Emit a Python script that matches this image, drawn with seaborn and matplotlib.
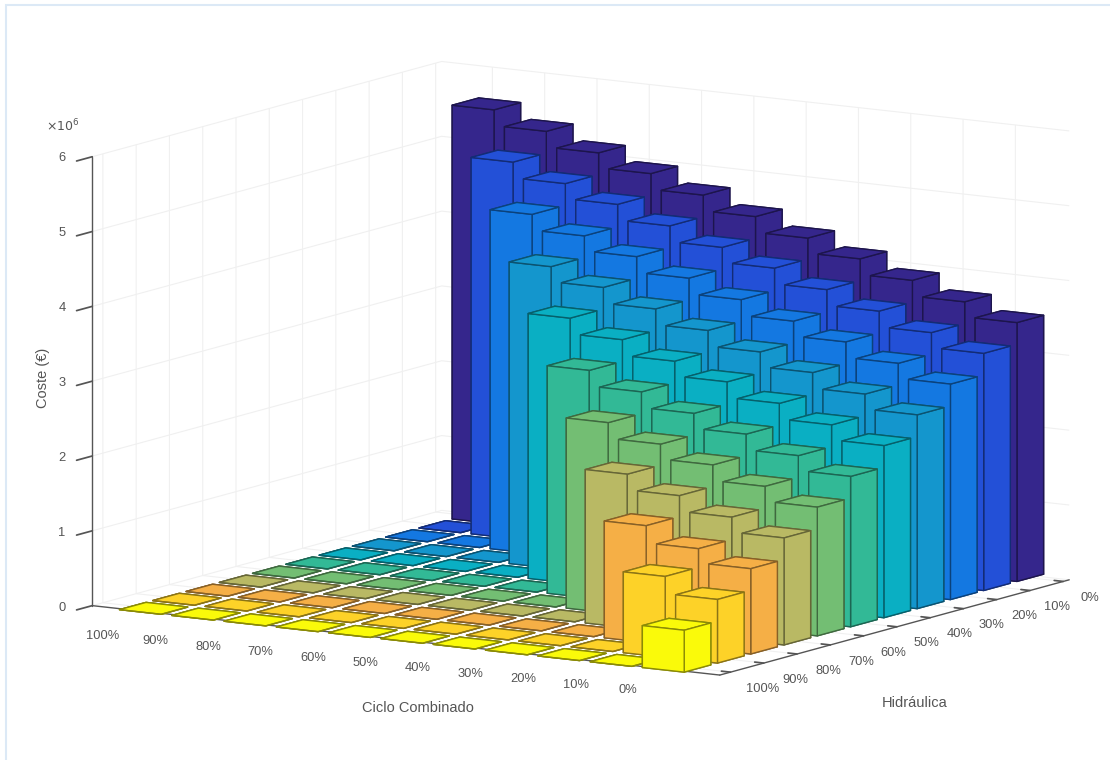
import matplotlib
matplotlib.use("Agg")
import matplotlib.pyplot as plt
from matplotlib.patches import Rectangle
import seaborn as sns

# tick labels
ciclo_labels = ["100%", "90%", "80%", "70%", "60%", "50%", "40%", "30%", "20%", "10%", "0%"]
hidro_labels = ["100%", "90%", "80%", "70%", "60%", "50%", "40%", "30%", "20%", "10%", "0%"]
coste_ticks = [0, 1e6, 2e6, 3e6, 4e6, 5e6, 6e6]
coste_labels = ["0", "1", "2", "3", "4", "5", "6"]

# coste in millions. one list per hidraulica row, ciclo 100% -> 0%
h100 = [0, 0, 0, 0, 0, 0, 0, 0, 0, 0, 0.56]
h90 = [0, 0, 0, 0, 0, 0, 0, 0, 0, 1.08, 0.85]
h80 = [0, 0, 0, 0, 0, 0, 0, 0, 1.56, 1.33, 1.14]
h70 = [0, 0, 0, 0, 0, 0, 0, 2.05, 1.84, 1.63, 1.43]
h60 = [0, 0, 0, 0, 0, 0, 2.54, 2.33, 2.13, 1.92, 1.72]
h50 = [0, 0, 0, 0, 0, 3.04, 2.83, 2.62, 2.42, 2.21, 2.01]
h40 = [0, 0, 0, 0, 3.54, 3.33, 3.12, 2.92, 2.71, 2.50, 2.30]
h30 = [0, 0, 0, 4.03, 3.83, 3.62, 3.41, 3.20, 3.00, 2.79, 2.59]
h20 = [0, 0, 4.53, 4.32, 4.12, 3.91, 3.70, 3.49, 3.29, 3.08, 2.88]
h10 = [0, 5.03, 4.82, 4.62, 4.41, 4.20, 4.00, 3.79, 3.58, 3.37, 3.17]
h0 = [5.53, 5.32, 5.11, 4.91, 4.70, 4.49, 4.28, 4.08, 3.87, 3.66, 3.46]
rows = [h100, h90, h80, h70, h60, h50, h40, h30, h20, h10, h0]

row_colors = ["#fafa0a", "#fdd228", "#f5af46", "#b9b964", "#73be73", "#32b996",
              "#0aafc3", "#1496cd", "#1478e1", "#2350d7", "#35268c"]

sns.set_theme(style="white")
plt.rcParams["font.family"] = ["Liberation Sans", "DejaVu Sans"]
palette = sns.color_palette(row_colors)
text_col = "#555555"

fig = plt.figure(figsize=(11.1, 7.6), dpi=100)
fig.patches.append(Rectangle((6 / 1110, -0.01), 1110, 1 - 5 / 760 + 0.01, transform=fig.transFigure,
                             fill=False, edgecolor="#dce9f6", linewidth=1.5))

# axes kept inside the figure, the box is enlarged with zoom instead
S = 720
ax = fig.add_axes([(571 - S / 2) / 1110, (760 - 378 - S / 2) / 760, S / 1110, S / 760],
                  projection="3d", computed_zorder=False)
ax.set_proj_type("ortho")
ax.view_init(elev=10, azim=-57.5)
ax.set_box_aspect((746, 652, 457), zoom=1056.5 / S)
ax.patch.set_alpha(0)

# back to front so the bars hide each other properly
order = 1
for j in range(10, -1, -1):
    edge = tuple(c * 0.55 for c in palette[j])
    for i in range(11):
        b = ax.bar3d(i - 0.4, j - 0.4, 0, 0.8, 0.8, rows[j][i] * 1e6, color=palette[j], shade=False,
                     edgecolor=edge, linewidth=1.0)
        b.set_zorder(order)
        b.set_clip_on(False)
        order += 1

ax.set_xlim(-0.97, 11.03)
ax.set_ylim(-0.32, 10.18)
ax.set_zlim(0, 6e6)
ax.set_xticks(range(11))
ax.set_yticks(range(11))
ax.set_zticks(coste_ticks)
ax.zaxis.set_ticks_position("lower")
ax.zaxis.get_offset_text().set_visible(False)

for axis, out in ((ax.xaxis, 0.3), (ax.yaxis, 0.18), (ax.zaxis, -0.56)):
    axis.set_pane_color((1, 1, 1, 0))
    axis.pane.set_edgecolor("#f0f0f0")
    axis._axinfo["grid"].update(color="#f0f0f0", linewidth=0.8)
    axis._axinfo["tick"].update(inward_factor=0, outward_factor=out)
    axis.line.set_color("#555555")
    axis.line.set_linewidth(1.0)
    axis.set_tick_params(color="#555555")
    for t in axis.get_ticklabels():
        t.set_visible(False)


def px_text(x, y, s, **kw):
    # place a label by its pixel position in the 1110x760 picture
    kw.setdefault("fontsize", 9.3)
    fig.text(x / 1110, 1 - y / 760, s, ha="center", va="center", color=text_col, **kw)


# mplot3d's own tick label placement cannot follow the reference offsets
for i, lab in enumerate(ciclo_labels):
    px_text(103 + 52.5 * i, 636 + 5.4 * i, lab)
for j, lab in enumerate(hidro_labels):
    px_text(763 + 32.7 * j, 689 - 9.1 * j, lab)
for n, lab in enumerate(coste_labels):
    px_text(62, 608 - 75 * n, lab)

px_text(418, 708, "Ciclo Combinado", fontsize=10.5)
px_text(915, 703, "Hidráulica", fontsize=10.5)
px_text(43, 378, "Coste (€)", rotation=90, fontsize=10.5)
px_text(63, 126, r"$\times 10^{6}$", fontsize=9)

plt.savefig("out.png", dpi=100)
